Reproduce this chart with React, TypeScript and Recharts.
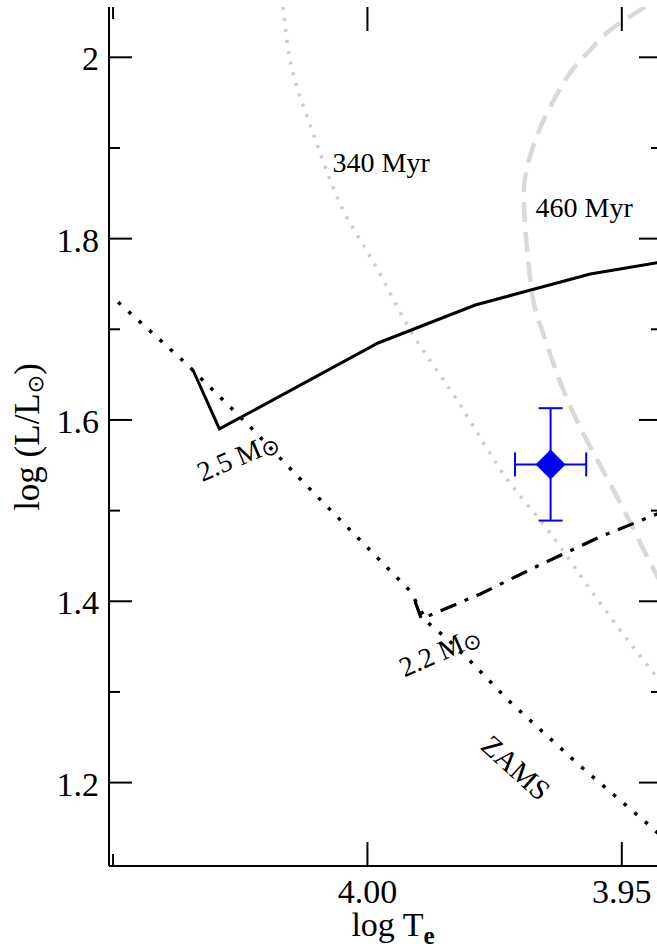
import React from "react";
import { ComposedChart, Line, Scatter, ErrorBar, XAxis, YAxis } from "recharts";

const FONT = '"Liberation Serif", "Times New Roman", Times, serif';
const TOP = 7;
const RIGHT = 662;

const xDomain = [3.9421, 4.0508];
const yDomain = [1.108, 2.0555];
const xTicks = [4.05, 4.0, 3.95];
const xTickLabels = ["", "4.00", "3.95"];
const yTicks = [1.2, 1.3, 1.4, 1.5, 1.6, 1.7, 1.8, 1.9, 2.0];
const yTickLabels = ["1.2", "", "1.4", "", "1.6", "", "1.8", "", "2"];

// ZAMS
const zamsT = [4.049, 4.036, 4.0236, 4.0117, 3.9955, 3.9916, 3.9883, 3.9841, 3.9802, 3.9722, 3.9582, 3.944, 3.9421];
const zamsL = [1.730, 1.664, 1.5956, 1.5261, 1.4335, 1.4114, 1.3772, 1.3574, 1.3364, 1.2901, 1.2184, 1.150, 1.140];

// evolutionary tracks
const track25T = [4.0343, 4.0291, 3.9979, 3.9788, 3.9562, 3.9421];
const track25L = [1.6551, 1.5901, 1.6849, 1.7268, 1.761, 1.7743];
const track22T = [3.9906, 3.9894, 3.9778, 3.9661, 3.9543, 3.9421];
const track22L = [1.3993, 1.3805, 1.4081, 1.4401, 1.471, 1.4985];

// isochrones
const iso340T = [4.0166, 4.015, 4.0122, 4.0093, 4.0048, 3.9985, 3.9916, 3.9837, 3.9773, 3.9714, 3.9641, 3.9543, 3.9435, 3.9421];
const iso340L = [2.0555, 1.9915, 1.9397, 1.8945, 1.8316, 1.7709, 1.6993, 1.6331, 1.5757, 1.5261, 1.4754, 1.3982, 1.3188, 1.3089];
const iso460T = [3.9454, 3.9523, 3.9562, 3.9602, 3.9641, 3.967, 3.969, 3.9692, 3.9686, 3.9674, 3.9655, 3.9615, 3.9562, 3.9503, 3.945, 3.9421];
const iso460L = [2.0555, 2.0301, 2.0081, 1.9827, 1.9452, 1.9088, 1.868, 1.8316, 1.7875, 1.7323, 1.696, 1.6331, 1.5702, 1.5085, 1.4489, 1.418];

// the star
const starT = [3.964];
const starL = [1.551];
const starErrT = [0.007];
const starErrL = [0.062];

// annotations
const noteText = ["340 Myr", "460 Myr", "2.5 M", "2.2 M", "ZAMS"];
const noteSun = [false, false, true, true, false];
const noteT = [3.9973, 3.9574, 4.0255, 3.9858, 3.9708];
const noteL = [1.8845, 1.8338, 1.5595, 1.3445, 1.2165];
const noteAngle = [0, 0, -23, -24, 42];

const zip = (t: number[], l: number[]) => t.map((v, i) => ({ t: v, l: l[i] }));

const zams = zip(zamsT, zamsL);
const track25 = zip(track25T, track25L);
const track22 = zip(track22T, track22L);
const iso340 = zip(iso340T, iso340L);
const iso460 = zip(iso460T, iso460L);
const star = starT.map((t, i) => ({ t, l: starL[i], et: starErrT[i], el: starErrL[i] }));
const notes = noteText.map((text, i) => ({ t: noteT[i], l: noteL[i], text, sun: noteSun[i], angle: noteAngle[i] }));

const idx = (arr: number[], v: number) => arr.findIndex((a) => Math.abs(a - v) < 1e-6);

function XTick(props: any) {
  const { x, y, payload } = props;
  const label = xTickLabels[idx(xTicks, payload.value)] ?? "";
  const len = label ? 24 : 12;
  return (
    <g>
      <line x1={x} x2={x} y1={y} y2={y - len} stroke="#000" strokeWidth={2} />
      <line x1={x} x2={x} y1={TOP} y2={TOP + len} stroke="#000" strokeWidth={2} />
      {label && (
        <text x={x} y={y + 37} textAnchor="middle" fontFamily={FONT} fontSize={34} fill="#000">
          {label}
        </text>
      )}
    </g>
  );
}

function YTick(props: any) {
  const { x, y, payload } = props;
  const label = yTickLabels[idx(yTicks, payload.value)] ?? "";
  const len = label ? 23 : 11;
  return (
    <g>
      <line x1={x} x2={x + len} y1={y} y2={y} stroke="#000" strokeWidth={2} />
      <line x1={RIGHT} x2={RIGHT - len} y1={y} y2={y} stroke="#000" strokeWidth={2} />
      {label && (
        <text x={x - 10} y={y + 13} textAnchor="end" fontFamily={FONT} fontSize={34} fill="#000">
          {label}
        </text>
      )}
    </g>
  );
}

function Diamond(props: any) {
  const { cx, cy } = props;
  const r = 15;
  return <polygon points={`${cx},${cy - r} ${cx + r},${cy} ${cx},${cy + r} ${cx - r},${cy}`} fill="#0000ff" />;
}

function Note(props: any) {
  const { cx, cy, payload } = props;
  return (
    <text
      x={cx}
      y={cy}
      textAnchor="middle"
      dominantBaseline="central"
      transform={`rotate(${payload.angle}, ${cx}, ${cy})`}
      fontFamily={FONT}
      fontSize={payload.angle > 0 ? 29 : 28}
      fill="#000"
    >
      {payload.text}
      {payload.sun && (
        <tspan fontFamily="DejaVu Sans" fontSize={22} dy={4}>
          ⊙
        </tspan>
      )}
    </text>
  );
}

export default function App() {
  return (
    <div style={{ position: "absolute", left: 0, top: 0, width: 657, height: 950, overflow: "hidden", background: "#fff" }}>
      <ComposedChart width={690} height={950} margin={{ top: TOP, right: 0, bottom: 0, left: 0 }}>
        <XAxis
          dataKey="t"
          type="number"
          domain={xDomain}
          reversed
          allowDataOverflow
          ticks={xTicks}
          interval={0}
          tick={<XTick />}
          tickLine={false}
          tickSize={0}
          tickMargin={0}
          height={84}
          axisLine={{ stroke: "#000", strokeWidth: 2 }}
        />
        <XAxis
          xAxisId="top"
          dataKey="t"
          type="number"
          orientation="top"
          domain={xDomain}
          reversed
          allowDataOverflow
          tick={false}
          tickLine={false}
          height={0}
          axisLine={{ stroke: "#000", strokeWidth: 2 }}
        />
        <YAxis
          dataKey="l"
          type="number"
          domain={yDomain}
          allowDataOverflow
          ticks={yTicks}
          interval={0}
          tick={<YTick />}
          tickLine={false}
          tickSize={0}
          tickMargin={0}
          width={109}
          axisLine={{ stroke: "#000", strokeWidth: 2 }}
        />
        <YAxis
          yAxisId="right"
          dataKey="l"
          type="number"
          orientation="right"
          domain={yDomain}
          allowDataOverflow
          tick={false}
          tickLine={false}
          width={28}
          axisLine={{ stroke: "#000", strokeWidth: 2 }}
        />

        <Line data={iso340} dataKey="l" type="natural" stroke="#cdcdcd" strokeWidth={3.5} strokeDasharray="3 8" dot={false} activeDot={false} isAnimationActive={false} />
        <Line data={iso460} dataKey="l" type="natural" stroke="#d9d9d9" strokeWidth={4.5} strokeDasharray="20 10" dot={false} activeDot={false} isAnimationActive={false} />
        <Line data={zams} dataKey="l" type="linear" stroke="#000" strokeWidth={3.5} strokeDasharray="3.5 10.5" dot={false} activeDot={false} isAnimationActive={false} />
        <Line data={track25} dataKey="l" type="linear" stroke="#000" strokeWidth={3} dot={false} activeDot={false} isAnimationActive={false} />
        <Line data={track22} dataKey="l" type="linear" stroke="#000" strokeWidth={3.2} strokeDasharray="17 9 4 9" dot={false} activeDot={false} isAnimationActive={false} />

        <Scatter data={star} dataKey="l" shape={<Diamond />} isAnimationActive={false}>
          <ErrorBar dataKey="el" direction="y" width={12} stroke="#0000ff" strokeWidth={2} />
          <ErrorBar dataKey="et" direction="x" width={12} stroke="#0000ff" strokeWidth={2} />
        </Scatter>
        <Scatter data={notes} dataKey="l" shape={<Note />} isAnimationActive={false} />

        <text x={393} y={936} textAnchor="middle" fontFamily={FONT} fontSize={34} fill="#000">
          log T
          <tspan fontSize={25} fontWeight="bold" dy={8}>
            e
          </tspan>
        </text>
        <text
          x={39}
          y={437}
          textAnchor="middle"
          transform="rotate(-90, 39, 437)"
          fontFamily={FONT}
          fontSize={35}
          fill="#000"
        >
          log (L/L
          <tspan fontFamily="DejaVu Sans" fontSize={22} dy={4}>
            ⊙
          </tspan>
          <tspan dy={-4}>)</tspan>
        </text>
      </ComposedChart>
    </div>
  );
}
